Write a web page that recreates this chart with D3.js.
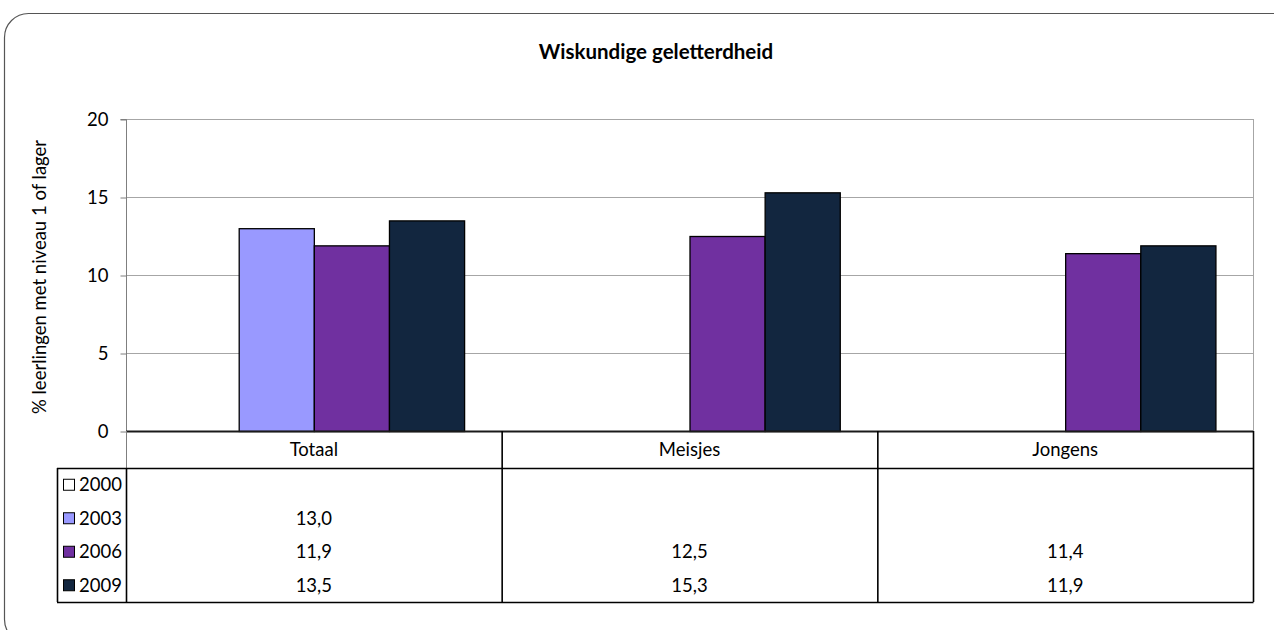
<!DOCTYPE html>
<html><head><meta charset="utf-8">
<script src="https://cdn.jsdelivr.net/npm/d3@7"></script>
<style>body{margin:0;background:#fff}svg{display:block}text{font-family:Lato,"Noto Sans",sans-serif;fill:#000}</style>
</head><body><svg id="c" width="1274" height="630"></svg>
<script>
const categories = ["Totaal", "Meisjes", "Jongens"];
const seriesNames = ["2000", "2003", "2006", "2009"];
const values2000 = [null, null, null];
const values2003 = [13.0, null, null];
const values2006 = [11.9, 12.5, 11.4];
const values2009 = [13.5, 15.3, 11.9];
const colors = ["#FFFFFF", "#9999FF", "#7030A0", "#12263F"];
const yTicks = [0, 5, 10, 15, 20];
const title = "Wiskundige geletterdheid";
const yLabel = "% leerlingen met niveau 1 of lager";

const FS = 18.5;
const series = [values2000, values2003, values2006, values2009];
const svg = d3.select("#c");
const L = 126, R = 1253, T = 119, B = 431;
const tableLeft = 57, headerBottom = 468, tableBottom = 602;
const rowH = (tableBottom - headerBottom) / 4;

svg.append("rect").attr("x", 4.5).attr("y", 13.5).attr("width", 1300).attr("height", 630)
  .attr("rx", 24).attr("fill", "none").attr("stroke", "#555").attr("stroke-width", 1.2);

svg.append("text").attr("x", 656).attr("y", 59).attr("text-anchor", "middle")
  .attr("font-size", 20.5).attr("font-weight", "bold").text(title);

const x = d3.scaleBand().domain(categories).range([L, R]);
const xs = d3.scaleBand().domain(seriesNames).range([0, x.bandwidth()]).paddingOuter(0.5);
const y = d3.scaleLinear().domain([0, 20]).range([B, T]);

// gridlines
svg.append("g").selectAll("line").data(yTicks.filter(d => d > 0)).join("line")
  .attr("x1", L).attr("x2", R).attr("y1", d => y(d) + 0.5).attr("y2", d => y(d) + 0.5)
  .attr("stroke", "#a6a6a6").attr("stroke-width", 1);
svg.append("line").attr("x1", R + 0.5).attr("x2", R + 0.5).attr("y1", T).attr("y2", B)
  .attr("stroke", "#a6a6a6");

// bars
seriesNames.forEach((s, i) => {
  svg.append("g").selectAll("rect").data(categories.map((c, j) => ({c, v: series[i][j]})).filter(d => d.v != null))
    .join("rect")
    .attr("x", d => x(d.c) + xs(s) + 0.5).attr("width", xs.bandwidth())
    .attr("y", d => y(d.v) + 0.5).attr("height", d => B - y(d.v))
    .attr("fill", colors[i]).attr("stroke", "#000").attr("stroke-width", 1.3);
});

// y axis
const yAxis = d3.axisLeft(y).tickValues(yTicks).tickSize(6).tickPadding(12).tickFormat(d3.format("d"));
const ga = svg.append("g").attr("transform", `translate(${L + 0.5},0.5)`).call(yAxis);
ga.select(".domain").attr("stroke", "#7f7f7f").attr("d", `M-6,${T}H0V${B}`);
ga.selectAll(".tick line").attr("stroke", "#7f7f7f");
ga.selectAll(".tick text").attr("font-size", FS).attr("font-family", "Lato,'Noto Sans',sans-serif").attr("dy", "0.35em").attr("y", 0);

svg.append("text").attr("transform", `translate(46,${(T + B) / 2 + 2}) rotate(-90)`)
  .attr("text-anchor", "middle").attr("font-size", FS).text(yLabel);

// zero line
svg.append("line").attr("x1", L).attr("x2", R).attr("y1", B + 0.5).attr("y2", B + 0.5)
  .attr("stroke", "#1a1a1a").attr("stroke-width", 2.2);
svg.append("line").attr("x1", L + 0.5).attr("x2", L + 0.5).attr("y1", B).attr("y2", headerBottom)
  .attr("stroke", "#7f7f7f");

// category labels
svg.append("g").selectAll("text").data(categories).join("text")
  .attr("x", d => x(d) + x.bandwidth() / 2).attr("y", (B + headerBottom) / 2 + 6)
  .attr("text-anchor", "middle").attr("font-size", FS).text(d => d);

// table lines
const tl = svg.append("g").attr("stroke", "#000").attr("stroke-width", 1.6);
categories.slice(1).forEach(c => {
  tl.append("line").attr("x1", x(c) + 0.5).attr("x2", x(c) + 0.5).attr("y1", B).attr("y2", tableBottom);
});
tl.append("line").attr("x1", R + 0.5).attr("x2", R + 0.5).attr("y1", B).attr("y2", tableBottom);
tl.append("line").attr("x1", tableLeft).attr("x2", R + 0.5).attr("y1", headerBottom + 0.5).attr("y2", headerBottom + 0.5);
tl.append("line").attr("x1", tableLeft).attr("x2", R + 0.5).attr("y1", tableBottom + 0.5).attr("y2", tableBottom + 0.5);
tl.append("line").attr("x1", tableLeft + 0.5).attr("x2", tableLeft + 0.5).attr("y1", headerBottom).attr("y2", tableBottom);
tl.append("line").attr("x1", L + 0.5).attr("x2", L + 0.5).attr("y1", headerBottom).attr("y2", tableBottom);

// legend rows
const fmt = v => v == null ? "" : v.toFixed(1).replace(".", ",");
seriesNames.forEach((s, i) => {
  const cy = headerBottom + rowH * (i + 0.5);
  svg.append("rect").attr("x", 63.5).attr("y", cy - 5.5).attr("width", 11).attr("height", 11)
    .attr("fill", colors[i]).attr("stroke", "#000").attr("stroke-width", 1);
  svg.append("text").attr("x", 79).attr("y", cy + 6.5).attr("font-size", FS).text(s);
  svg.append("g").selectAll("text").data(categories.map((c, j) => ({c, v: series[i][j]}))).join("text")
    .attr("x", d => x(d.c) + x.bandwidth() / 2).attr("y", cy + 6.5)
    .attr("text-anchor", "middle").attr("font-size", FS).text(d => fmt(d.v));
});
</script></body></html>
